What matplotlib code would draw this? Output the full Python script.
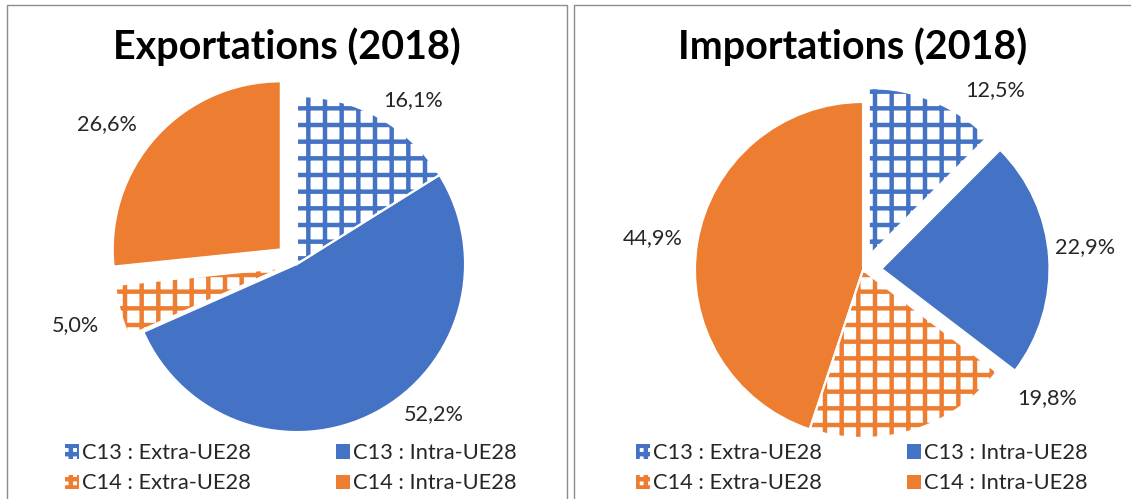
import matplotlib
matplotlib.use("Agg")
import matplotlib.pyplot as plt
from matplotlib.patches import Patch, Rectangle

plt.rcParams["font.family"] = ["Lato", "DejaVu Sans"]
plt.rcParams["hatch.linewidth"] = 3.2

CATEGORIES = ["C13 : Extra-UE28", "C13 : Intra-UE28", "C14 : Extra-UE28", "C14 : Intra-UE28"]
EXPORT_VALUES = [16.1, 52.2, 5.0, 26.6]
IMPORT_VALUES = [12.5, 22.9, 19.8, 44.9]
TITLES = ["Exportations (2018)", "Importations (2018)"]

BLUE = "#4472C4"
ORANGE = "#ED7D31"
COLORS = [BLUE, BLUE, ORANGE, ORANGE]
HATCHED = [True, False, True, False]

EXPORT_EXPLODE = [0.0, 0.0, 0.09, 0.13]
IMPORT_EXPLODE = [0.09, 0.11, 0.0, 0.0]
# label offsets from the pie centre, in radius units
EXPORT_LABEL_XY = [(0.69, 0.976), (0.816, -0.893), (-1.32, -0.363), (-1.13, 0.833)]
IMPORT_LABEL_XY = [(0.786, 1.071), (1.32, 0.137), (1.095, -0.762), (-1.25, 0.19)]

W, H = 1131, 499
R_PX = 168
TEXT = "#262626"


def fmt(v: float) -> str:
    return f"{v:.1f}%".replace(".", ",")


def fit_size(fig, text, width_px, **kw):
    t = fig.text(0, 0, text, fontsize=10, **kw)
    w = t.get_window_extent(fig.canvas.get_renderer()).width
    t.remove()
    return 10 * width_px / w


def style_wedge(w, col, hat):
    if hat:
        w.set_facecolor("white")
        w.set_edgecolor(col)
        w.set_hatch("+")
    else:
        w.set_facecolor(col)
        w.set_edgecolor(col)


def draw_pie(fig, sizes, panel, centre, values, explode, label_xy, title, legend_x):
    x0, y0, x1, y1 = panel
    cx, cy = centre
    ax = fig.add_axes([x0 / W, 1 - y1 / H, (x1 - x0) / W, (y1 - y0) / H])
    wedges, _ = ax.pie(
        values,
        startangle=90,
        counterclock=False,
        explode=explode,
        normalize=True,
        wedgeprops={"linewidth": 0},
    )
    for w, col, hat in zip(wedges, COLORS, HATCHED):
        style_wedge(w, col, hat)
    # white slice borders on top
    ax.pie(
        values,
        startangle=90,
        counterclock=False,
        explode=explode,
        normalize=True,
        wedgeprops={"fill": False, "edgecolor": "white", "linewidth": 1.5},
    )
    for v, (lx, ly) in zip(values, label_xy):
        ax.text(lx, ly, fmt(v), ha="center", va="center", fontsize=sizes["label"], color=TEXT)

    ax.set_aspect("auto")
    ax.set_xlim((x0 - cx) / R_PX, (x1 - cx) / R_PX)
    ax.set_ylim((cy - y1) / R_PX, (cy - y0) / R_PX)
    ax.axis("off")

    ax.text(0.5, 1 - (47 - y0) / (y1 - y0), title, transform=ax.transAxes,
            ha="center", va="center", fontsize=sizes["title"], fontweight="bold", color="black")

    handles = []
    for col, hat in zip(COLORS, HATCHED):
        if hat:
            handles.append(Patch(facecolor="white", edgecolor=col, hatch="++", linewidth=0))
        else:
            handles.append(Patch(facecolor=col, edgecolor=col, linewidth=0))
    fs = sizes["legend"]
    fs_px = fs * 100 / 72
    order = [0, 2, 1, 3]
    ax.legend(
        [handles[i] for i in order],
        [CATEGORIES[i] for i in order],
        ncol=2,
        loc="upper left",
        bbox_to_anchor=((legend_x - x0) / (x1 - x0), 1 - (443 - y0) / (y1 - y0)),
        borderpad=0,
        borderaxespad=0,
        frameon=False,
        fontsize=fs,
        handlelength=14 / fs_px,
        handleheight=14 / fs_px,
        handletextpad=3 / fs_px,
        columnspacing=85 / fs_px,
        labelspacing=0.48,
        labelcolor=TEXT,
    )
    return ax


def main() -> None:
    fig = plt.figure(figsize=(W / 100, H / 100), dpi=100)
    fig.patch.set_facecolor("white")

    sizes = {
        "title": fit_size(fig, TITLES[1], 350, fontweight="bold"),
        "label": fit_size(fig, "52,2%", 60),
        "legend": fit_size(fig, CATEGORIES[1], 163),
    }

    draw_pie(fig, sizes, (7, 5, 567, 499), (297, 264), EXPORT_VALUES, EXPORT_EXPLODE,
             EXPORT_LABEL_XY, TITLES[0], 65)
    draw_pie(fig, sizes, (574, 5, 1131, 499), (863, 270), IMPORT_VALUES, IMPORT_EXPLODE,
             IMPORT_LABEL_XY, TITLES[1], 636)

    # panel borders
    for x0, x1 in [(7, 567), (574, 1140)]:
        fig.patches.append(Rectangle((x0 / W, -0.05), (x1 - x0) / W, 1.05 - 5 / H,
                                     transform=fig.transFigure, fill=False,
                                     edgecolor="#8c8c8c", linewidth=1.0))

    fig.savefig("out.png", dpi=100)
    plt.close(fig)


if __name__ == "__main__":
    main()
